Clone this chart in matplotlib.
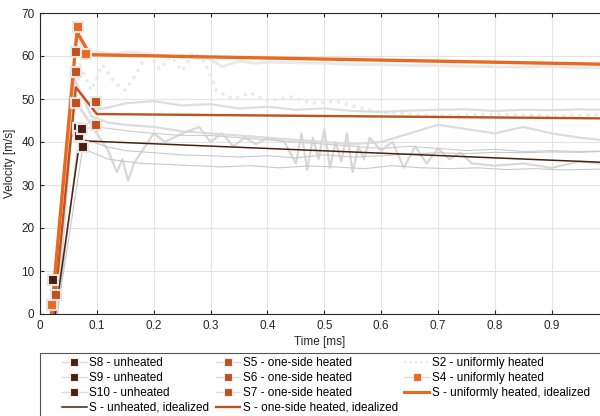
import numpy as np
import matplotlib
matplotlib.use("Agg")
import matplotlib.pyplot as plt
from matplotlib.lines import Line2D
from matplotlib.patches import Rectangle

plt.rcParams['font.family'] = ['Liberation Sans', 'DejaVu Sans']

# colours
c_unh = '#4a1f0e'
c_one = '#c0501c'
c_uni = '#ea691f'
c_lgray = '#e9e9e9'

# idealized curves [ms], [m/s]
t_id_unh = [0.027, 0.070, 0.985]
v_id_unh = [0.0, 40.3, 35.3]
t_id_one = [0.024, 0.063, 0.100, 0.985]
v_id_one = [0.0, 52.7, 46.5, 45.5]
t_id_uni = [0.020, 0.065, 0.088, 0.985]
v_id_uni = [0.0, 65.6, 60.3, 58.1]

# measured peak markers
t_s8 = [0.022, 0.067]
v_s8 = [7.9, 43.3]
t_s9 = [0.069, 0.074]
v_s9 = [41.4, 43.0]
t_s10 = [0.075]
v_s10 = [38.9]
t_s5 = [0.028, 0.063]
v_s5 = [4.4, 61.0]
t_s6 = [0.063, 0.098]
v_s6 = [56.3, 49.3]
t_s7 = [0.063, 0.098]
v_s7 = [49.1, 44.0]
t_s4 = [0.021, 0.067, 0.081]
v_s4 = [2.1, 66.8, 60.4]

# raw velocity traces
t_tr_s4 = [0.02, 0.04, 0.065, 0.08, 0.1, 0.13, 0.16, 0.2, 0.25, 0.3, 0.32, 0.35, 0.38, 0.4,
           0.45, 0.5, 0.55, 0.6, 0.65, 0.7, 0.75, 0.8, 0.85, 0.9, 0.95, 0.985]
v_tr_s4 = [0.0, 30.0, 65.5, 60.0, 61.0, 60.5, 61.0, 60.3, 59.8, 59.3, 57.5, 58.8, 58.3, 58.6,
           58.4, 58.3, 58.0, 58.0, 57.8, 57.8, 57.6, 57.5, 57.4, 57.5, 57.2, 57.3]

t_tr_s2 = [0.02, 0.05, 0.07, 0.09, 0.11, 0.13, 0.15, 0.17, 0.19, 0.21, 0.23, 0.25, 0.27, 0.29,
           0.31, 0.34, 0.37, 0.40, 0.44, 0.48, 0.52, 0.56, 0.60, 0.65, 0.70, 0.80, 0.90, 0.985]
v_tr_s2 = [0.0, 35.0, 58.0, 52.0, 58.0, 54.0, 52.0, 56.0, 61.0, 57.0, 60.0, 56.5, 61.0, 58.5,
           52.0, 50.0, 51.5, 49.5, 50.5, 49.0, 49.5, 48.0, 47.0, 46.5, 46.0, 46.5, 46.0, 46.3]

t_tr_s5 = [0.03, 0.06, 0.08, 0.10, 0.12, 0.15, 0.2, 0.25, 0.3, 0.35, 0.4, 0.45, 0.5, 0.55,
           0.6, 0.65, 0.7, 0.75, 0.8, 0.85, 0.9, 0.95, 0.985]
v_tr_s5 = [0.0, 54.0, 50.0, 47.5, 48.0, 49.0, 49.5, 48.5, 48.8, 47.8, 48.2, 47.5, 47.8, 47.2,
           47.0, 47.3, 47.5, 47.6, 47.2, 47.5, 47.4, 47.6, 47.5]

t_tr_s6 = [0.03, 0.06, 0.09, 0.12, 0.15, 0.2, 0.25, 0.3, 0.35, 0.4, 0.45, 0.5, 0.55, 0.6,
           0.65, 0.7, 0.75, 0.8, 0.85, 0.9, 0.95, 0.985]
v_tr_s6 = [0.0, 55.0, 46.0, 44.5, 44.0, 43.5, 42.5, 42.0, 41.5, 41.0, 40.5, 40.0, 39.5, 40.0,
           42.0, 44.0, 43.0, 42.0, 43.5, 42.0, 41.0, 40.5]

t_tr_s7 = [0.03, 0.06, 0.08, 0.10, 0.12, 0.135, 0.145, 0.155, 0.165, 0.18, 0.2, 0.22, 0.25,
           0.28, 0.3, 0.32, 0.34, 0.36, 0.38, 0.4, 0.43, 0.45, 0.46, 0.47, 0.48, 0.49, 0.5,
           0.51, 0.52, 0.53, 0.54, 0.55, 0.56, 0.57, 0.58, 0.6, 0.62, 0.64, 0.66, 0.68, 0.7,
           0.72, 0.74, 0.76, 0.8, 0.85, 0.9, 0.95, 0.985]
v_tr_s7 = [0.0, 50.0, 46.0, 42.0, 38.0, 33.0, 36.0, 31.0, 35.0, 38.0, 42.0, 40.0, 42.0,
           43.5, 40.0, 42.0, 39.0, 41.0, 39.5, 41.0, 40.0, 35.0, 42.0, 33.5, 41.0, 36.0, 43.0,
           34.0, 40.0, 35.5, 42.0, 33.0, 39.0, 36.0, 41.0, 38.0, 40.0, 34.0, 39.0, 35.0, 38.5,
           36.0, 37.5, 35.0, 34.5, 35.0, 34.0, 35.5, 35.0]

t_tr_s8 = [0.03, 0.07, 0.10, 0.13, 0.16, 0.2, 0.25, 0.3, 0.35, 0.4, 0.45, 0.5, 0.55, 0.6,
           0.65, 0.7, 0.75, 0.8, 0.85, 0.9, 0.95, 0.985]
v_tr_s8 = [0.0, 43.0, 43.5, 43.0, 42.5, 42.0, 41.5, 41.5, 41.0, 40.5, 40.0, 39.5, 39.0, 38.5,
           39.0, 38.5, 38.0, 38.3, 37.8, 38.0, 37.8, 37.9]

t_tr_s9 = [0.03, 0.07, 0.12, 0.15, 0.2, 0.25, 0.3, 0.35, 0.4, 0.45, 0.5, 0.55, 0.6, 0.65,
           0.7, 0.75, 0.8, 0.85, 0.9, 0.95, 0.985]
v_tr_s9 = [0.0, 41.0, 38.8, 38.0, 37.5, 37.0, 36.8, 36.5, 36.8, 36.3, 37.0, 36.5, 36.8, 37.2,
           37.5, 37.3, 37.6, 37.5, 37.7, 37.6, 37.8]

t_tr_s10 = [0.03, 0.075, 0.12, 0.18, 0.22, 0.27, 0.32, 0.37, 0.42, 0.47, 0.52, 0.57, 0.62,
            0.67, 0.72, 0.77, 0.82, 0.87, 0.92, 0.985]
v_tr_s10 = [0.0, 38.5, 36.0, 35.0, 34.8, 34.5, 34.2, 34.5, 34.0, 34.4, 34.2, 33.8, 34.5, 34.0,
            33.8, 34.0, 33.6, 33.8, 33.5, 33.7]

fig = plt.figure(figsize=(6.0, 4.16), dpi=100)
ax = fig.add_axes([40 / 600, 102 / 416, 560 / 600, 301 / 416])

# raw traces
ax.plot(t_tr_s2, v_tr_s2, ':', color=c_lgray, lw=2.2, zorder=1)
ax.plot(t_tr_s4, v_tr_s4, '-', color=c_lgray, lw=2.0, zorder=1)
ax.plot(t_tr_s5, v_tr_s5, '-', color='#dddddd', lw=1.6, zorder=1)
ax.plot(t_tr_s6, v_tr_s6, '-', color='#dcdcdc', lw=1.6, zorder=1)
ax.plot(t_tr_s7, v_tr_s7, '-', color='#d8d8d8', lw=1.6, zorder=1)
ax.plot(t_tr_s8, v_tr_s8, '-', color='#cccccc', lw=0.8, zorder=1)
ax.plot(t_tr_s9, v_tr_s9, '-', color='#c8c8c8', lw=0.8, zorder=1)
ax.plot(t_tr_s10, v_tr_s10, '-', color='#c8c8c8', lw=0.8, zorder=1)

# idealized
ax.plot(t_id_unh, v_id_unh, '-', color=c_unh, lw=1.1, zorder=3)
ax.plot(t_id_one, v_id_one, '-', color=c_one, lw=1.7, zorder=3)
ax.plot(t_id_uni, v_id_uni, '-', color=c_uni, lw=2.4, zorder=3)

mk = dict(ls='none', marker='s', ms=6.5, mew=1.5, mec='#e6e6e6', zorder=4)
for tt, vv, cc in [(t_s8, v_s8, c_unh), (t_s9, v_s9, c_unh), (t_s10, v_s10, c_unh),
                   (t_s5, v_s5, c_one), (t_s6, v_s6, c_one), (t_s7, v_s7, c_one),
                   (t_s4, v_s4, c_uni)]:
    ax.plot(tt, vv, mfc=cc, **mk)

ax.set_xlim(0, 0.985)
ax.set_ylim(0, 70)
ax.set_xticks(np.arange(0, 1.0, 0.1))
ax.set_xticklabels(['0', '0.1', '0.2', '0.3', '0.4', '0.5', '0.6', '0.7', '0.8', '0.9'])
ax.set_yticks(np.arange(0, 71, 10))
ax.grid(True, color='#e4e4e4', lw=0.8)
ax.set_axisbelow(True)
ax.tick_params(direction='in', top=True, right=False, length=3, width=0.8,
               labelsize=8.5, colors='#262626', pad=4)
for s in ['left', 'bottom', 'top']:
    ax.spines[s].set_color('#262626')
    ax.spines[s].set_linewidth(0.8)
ax.spines['right'].set_visible(False)
ax.set_xlabel('Time [ms]', fontsize=8.5, color='#262626', labelpad=3)
ax.set_ylabel('Velocity [m/s]', fontsize=8.5, color='#262626', labelpad=4)

# legend
lh = dict(color='#dcdcdc', lw=1.0, marker='s', ms=6, mec='#eeeeee', mew=0.8)
handles = [
    Line2D([], [], mfc=c_unh, **lh),
    Line2D([], [], mfc=c_unh, **lh),
    Line2D([], [], mfc=c_unh, **lh),
    Line2D([], [], color=c_unh, lw=1.1),
    Line2D([], [], mfc=c_one, **lh),
    Line2D([], [], mfc=c_one, **lh),
    Line2D([], [], mfc=c_one, **lh),
    Line2D([], [], color=c_one, lw=1.7),
    Line2D([], [], color=c_lgray, lw=1.5, ls=':'),
    Line2D([], [], mfc=c_uni, **lh),
    Line2D([], [], color=c_uni, lw=2.2),
]
labels = ['S8 - unheated', 'S9 - unheated', 'S10 - unheated', 'S - unheated, idealized',
          'S5 - one-side heated', 'S6 - one-side heated', 'S7 - one-side heated',
          'S - one-side heated, idealized',
          'S2 - uniformly heated', 'S4 - uniformly heated', 'S - uniformly heated, idealized']
fig.legend(handles, labels, ncol=3, loc='upper left', bbox_to_anchor=(62 / 600, (416 - 357) / 416),
           frameon=False, fontsize=8.5, handlelength=2.1, handletextpad=0.2,
           columnspacing=0.55, labelspacing=0.25, borderpad=0, borderaxespad=0)
fig.patches.append(Rectangle((40 / 600, -0.1), 1.0, (416 - 353) / 416 + 0.1,
                             transform=fig.transFigure, fill=False,
                             ec='#555555', lw=0.8))

fig.savefig('out.png', dpi=100)
